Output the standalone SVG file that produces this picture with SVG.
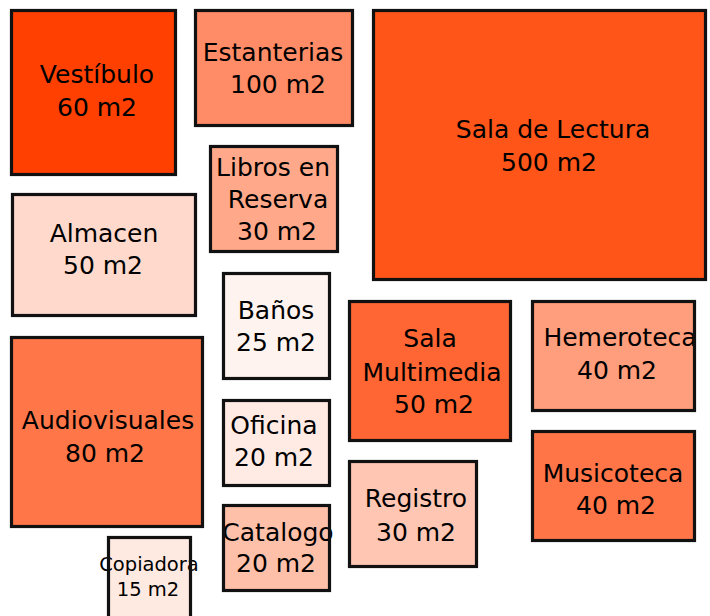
<svg xmlns="http://www.w3.org/2000/svg" width="710" height="616" viewBox="0 0 710 616">
<style>
.b{stroke:#111;stroke-width:3.2}
.t{font-family:"DejaVu Sans","Liberation Sans",sans-serif;font-size:25px;fill:#000;text-anchor:middle}
.s{font-size:19.5px}
</style>
<rect width="710" height="616" fill="#fff"/>
<g id="vestibulo"><rect class="b" x="11.5" y="10.5" width="164" height="164" fill="#FF4000"/><text class="t"><tspan x="97" y="83">Vestíbulo</tspan><tspan x="97" y="116">60 m2</tspan></text></g>
<g id="estanterias"><rect class="b" x="195.5" y="10.5" width="157" height="115" fill="#FF8C66"/><text class="t"><tspan x="273" y="61">Estanterias</tspan><tspan x="278" y="93">100 m2</tspan></text></g>
<g id="libros"><rect class="b" x="210.5" y="146.5" width="127" height="105" fill="#FFA98A"/><text class="t"><tspan x="273" y="176">Libros en</tspan><tspan x="278" y="208">Reserva</tspan><tspan x="277" y="240">30  m2</tspan></text></g>
<g id="sala-lectura"><rect class="b" x="373.5" y="10.5" width="332" height="269" fill="#FF5519"/><text class="t"><tspan x="553" y="138">Sala de Lectura</tspan><tspan x="549" y="171">500 m2</tspan></text></g>
<g id="almacen"><rect class="b" x="12.5" y="194.5" width="183" height="121" fill="#FFD9CC"/><text class="t"><tspan x="104" y="242">Almacen</tspan><tspan x="103" y="274">50 m2</tspan></text></g>
<g id="banos"><rect class="b" x="223.5" y="273.5" width="106" height="105" fill="#FFF3EF"/><text class="t"><tspan x="276" y="319">Baños</tspan><tspan x="276" y="351">25 m2</tspan></text></g>
<g id="audiovisuales"><rect class="b" x="11.5" y="337.5" width="191" height="189" fill="#FF7748"/><text class="t"><tspan x="108" y="429">Audiovisuales</tspan><tspan x="105" y="462">80 m2</tspan></text></g>
<g id="oficina"><rect class="b" x="223.5" y="400.5" width="106" height="85" fill="#FFEBE4"/><text class="t"><tspan x="274" y="434">Oficina</tspan><tspan x="274" y="466">20 m2</tspan></text></g>
<g id="catalogo"><rect x="223.5" y="505.5" width="106" height="85" fill="#FFC0AA"/><text class="t"><tspan x="278" y="541">Catalogo</tspan><tspan x="276" y="572">20 m2</tspan></text><rect class="b" x="223.5" y="505.5" width="106" height="85" fill="none"/></g>
<g id="copiadora"><rect x="108.5" y="537.5" width="82" height="90" fill="#FFEAE2"/><text class="t s"><tspan x="149" y="571">Copiadora</tspan><tspan x="148" y="596">15 m2</tspan></text><rect class="b" x="108.5" y="537.5" width="82" height="90" fill="none"/></g>
<g id="sala-multimedia"><rect class="b" x="349.5" y="301.5" width="161" height="139" fill="#FF6633"/><text class="t"><tspan x="430" y="347">Sala</tspan><tspan x="432" y="381">Multimedia</tspan><tspan x="434" y="413">50  m2</tspan></text></g>
<g id="hemeroteca"><rect x="532.5" y="301.5" width="162" height="109" fill="#FF9E7C"/><text class="t"><tspan x="620" y="346">Hemeroteca</tspan><tspan x="617" y="379">40  m2</tspan></text><rect class="b" x="532.5" y="301.5" width="162" height="109" fill="none"/></g>
<g id="musicoteca"><rect class="b" x="532.5" y="431.5" width="162" height="109" fill="#FF7548"/><text class="t"><tspan x="613" y="482">Musicoteca</tspan><tspan x="616" y="514">40  m2</tspan></text></g>
<g id="registro"><rect class="b" x="349.5" y="461.5" width="127" height="105" fill="#FFC6B3"/><text class="t"><tspan x="416" y="507">Registro</tspan><tspan x="416" y="541">30 m2</tspan></text></g>
<g id="connectors"></g>
</svg>
